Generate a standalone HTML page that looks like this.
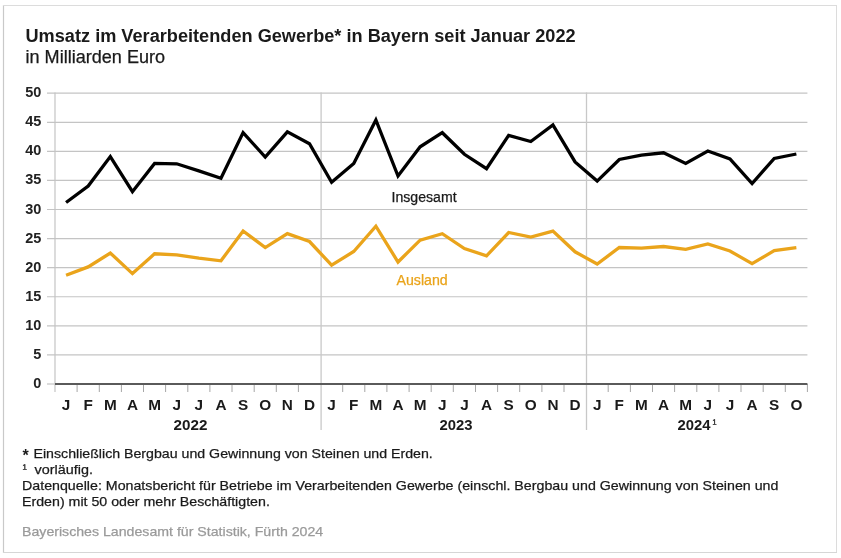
<!DOCTYPE html>
<html lang="de"><head><meta charset="utf-8"><title>Umsatz im Verarbeitenden Gewerbe in Bayern</title>
<style>
html,body{margin:0;padding:0;background:#fff;width:841px;height:558px;overflow:hidden}
svg{display:block}
text{font-family:"Liberation Sans",Arial,sans-serif}
.g{stroke:#c4c4c4;stroke-width:1.2}
.t{stroke:#a6a6a6;stroke-width:1}
.s{stroke:#c8c8c8;stroke-width:1.3}
.z{stroke:#5a5a5a;stroke-width:2}
.lb{fill:none;stroke:#000;stroke-width:3.3;stroke-linejoin:miter}
.lo{fill:none;stroke:#eaa41b;stroke-width:3.3;stroke-linejoin:miter}
.yl{font-size:14.2px;font-weight:bold;text-anchor:end;fill:#222}
.ml{font-size:14.2px;font-weight:bold;text-anchor:middle;fill:#1a1a1a}
</style></head><body>
<svg width="841" height="558" viewBox="0 0 841 558">
<rect x="0" y="0" width="841" height="558" fill="#fff"/>
<line x1="3.5" y1="5" x2="3.5" y2="553" stroke="#c9c9c9" stroke-width="1.2"/>
<line x1="3" y1="5.5" x2="836.5" y2="5.5" stroke="#dcdcdc" stroke-width="1"/>
<line x1="836.5" y1="5" x2="836.5" y2="553" stroke="#dcdcdc" stroke-width="1"/>
<line x1="3" y1="552.5" x2="837" y2="552.5" stroke="#d6d6d6" stroke-width="1"/>
<line x1="47" y1="354.92" x2="807.4" y2="354.92" class="g"/><line x1="47" y1="325.84" x2="807.4" y2="325.84" class="g"/><line x1="47" y1="296.76" x2="807.4" y2="296.76" class="g"/><line x1="47" y1="267.68" x2="807.4" y2="267.68" class="g"/><line x1="47" y1="238.60" x2="807.4" y2="238.60" class="g"/><line x1="47" y1="209.52" x2="807.4" y2="209.52" class="g"/><line x1="47" y1="180.44" x2="807.4" y2="180.44" class="g"/><line x1="47" y1="151.36" x2="807.4" y2="151.36" class="g"/><line x1="47" y1="122.28" x2="807.4" y2="122.28" class="g"/><line x1="47" y1="93.20" x2="807.4" y2="93.20" class="g"/><line x1="47" y1="384" x2="55.0" y2="384" class="g"/><line x1="55.0" y1="92.5" x2="55.0" y2="392" class="g"/><line x1="321.1" y1="92.5" x2="321.1" y2="430" class="s"/><line x1="586.5" y1="92.5" x2="586.5" y2="430" class="s"/><line x1="77.1" y1="384" x2="77.1" y2="392" class="t"/><line x1="99.3" y1="384" x2="99.3" y2="392" class="t"/><line x1="121.4" y1="384" x2="121.4" y2="392" class="t"/><line x1="143.5" y1="384" x2="143.5" y2="392" class="t"/><line x1="165.6" y1="384" x2="165.6" y2="392" class="t"/><line x1="187.8" y1="384" x2="187.8" y2="392" class="t"/><line x1="209.9" y1="384" x2="209.9" y2="392" class="t"/><line x1="232.0" y1="384" x2="232.0" y2="392" class="t"/><line x1="254.2" y1="384" x2="254.2" y2="392" class="t"/><line x1="276.3" y1="384" x2="276.3" y2="392" class="t"/><line x1="298.4" y1="384" x2="298.4" y2="392" class="t"/><line x1="342.7" y1="384" x2="342.7" y2="392" class="t"/><line x1="364.8" y1="384" x2="364.8" y2="392" class="t"/><line x1="386.9" y1="384" x2="386.9" y2="392" class="t"/><line x1="409.1" y1="384" x2="409.1" y2="392" class="t"/><line x1="431.2" y1="384" x2="431.2" y2="392" class="t"/><line x1="453.3" y1="384" x2="453.3" y2="392" class="t"/><line x1="475.5" y1="384" x2="475.5" y2="392" class="t"/><line x1="497.6" y1="384" x2="497.6" y2="392" class="t"/><line x1="519.7" y1="384" x2="519.7" y2="392" class="t"/><line x1="541.9" y1="384" x2="541.9" y2="392" class="t"/><line x1="564.0" y1="384" x2="564.0" y2="392" class="t"/><line x1="608.2" y1="384" x2="608.2" y2="392" class="t"/><line x1="630.4" y1="384" x2="630.4" y2="392" class="t"/><line x1="652.5" y1="384" x2="652.5" y2="392" class="t"/><line x1="674.6" y1="384" x2="674.6" y2="392" class="t"/><line x1="696.8" y1="384" x2="696.8" y2="392" class="t"/><line x1="718.9" y1="384" x2="718.9" y2="392" class="t"/><line x1="741.0" y1="384" x2="741.0" y2="392" class="t"/><line x1="763.2" y1="384" x2="763.2" y2="392" class="t"/><line x1="785.3" y1="384" x2="785.3" y2="392" class="t"/><line x1="807.4" y1="384" x2="807.4" y2="392" class="t"/><line x1="55.0" y1="384" x2="807.4" y2="384" class="z"/>
<polyline points="66.06,202.50 88.19,186.00 110.32,156.60 132.45,191.70 154.58,163.40 176.71,163.80 198.84,170.90 220.97,178.30 243.10,132.60 265.24,157.10 287.37,131.80 309.50,143.70 331.62,182.20 353.75,163.40 375.88,119.90 398.01,176.00 420.14,146.80 442.27,132.70 464.40,154.30 486.53,168.70 508.66,135.30 530.79,141.50 552.92,125.00 575.05,161.90 597.18,181.10 619.31,159.50 641.44,155.20 663.57,152.80 685.70,163.40 707.83,151.00 729.96,159.00 752.09,183.60 774.23,158.50 796.36,154.00" class="lb"/>
<polyline points="66.06,275.30 88.19,266.90 110.32,253.00 132.45,273.60 154.58,253.80 176.71,254.90 198.84,258.10 220.97,260.80 243.10,231.00 265.24,247.60 287.37,233.60 309.50,241.50 331.62,265.20 353.75,251.50 375.88,226.25 398.01,262.00 420.14,240.10 442.27,233.70 464.40,248.50 486.53,255.80 508.66,232.50 530.79,237.00 552.92,231.10 575.05,251.80 597.18,264.00 619.31,247.50 641.44,248.10 663.57,246.50 685.70,249.40 707.83,244.00 729.96,251.00 752.09,263.70 774.23,250.60 796.36,247.70" class="lo"/>
<text transform="translate(41.3 388.0) scale(1.02 1)" class="yl">0</text><text transform="translate(41.3 358.9) scale(1.02 1)" class="yl">5</text><text transform="translate(41.3 329.8) scale(1.02 1)" class="yl">10</text><text transform="translate(41.3 300.8) scale(1.02 1)" class="yl">15</text><text transform="translate(41.3 271.7) scale(1.02 1)" class="yl">20</text><text transform="translate(41.3 242.6) scale(1.02 1)" class="yl">25</text><text transform="translate(41.3 213.5) scale(1.02 1)" class="yl">30</text><text transform="translate(41.3 184.4) scale(1.02 1)" class="yl">35</text><text transform="translate(41.3 155.4) scale(1.02 1)" class="yl">40</text><text transform="translate(41.3 126.3) scale(1.02 1)" class="yl">45</text><text transform="translate(41.3 97.2) scale(1.02 1)" class="yl">50</text>
<text transform="translate(66.06 410) scale(1.08 1)" class="ml">J</text><text transform="translate(88.19 410) scale(1.08 1)" class="ml">F</text><text transform="translate(110.32 410) scale(1.08 1)" class="ml">M</text><text transform="translate(132.45 410) scale(1.08 1)" class="ml">A</text><text transform="translate(154.58 410) scale(1.08 1)" class="ml">M</text><text transform="translate(176.71 410) scale(1.08 1)" class="ml">J</text><text transform="translate(198.84 410) scale(1.08 1)" class="ml">J</text><text transform="translate(220.97 410) scale(1.08 1)" class="ml">A</text><text transform="translate(243.10 410) scale(1.08 1)" class="ml">S</text><text transform="translate(265.24 410) scale(1.08 1)" class="ml">O</text><text transform="translate(287.37 410) scale(1.08 1)" class="ml">N</text><text transform="translate(309.50 410) scale(1.08 1)" class="ml">D</text><text transform="translate(331.62 410) scale(1.08 1)" class="ml">J</text><text transform="translate(353.75 410) scale(1.08 1)" class="ml">F</text><text transform="translate(375.88 410) scale(1.08 1)" class="ml">M</text><text transform="translate(398.01 410) scale(1.08 1)" class="ml">A</text><text transform="translate(420.14 410) scale(1.08 1)" class="ml">M</text><text transform="translate(442.27 410) scale(1.08 1)" class="ml">J</text><text transform="translate(464.40 410) scale(1.08 1)" class="ml">J</text><text transform="translate(486.53 410) scale(1.08 1)" class="ml">A</text><text transform="translate(508.66 410) scale(1.08 1)" class="ml">S</text><text transform="translate(530.79 410) scale(1.08 1)" class="ml">O</text><text transform="translate(552.92 410) scale(1.08 1)" class="ml">N</text><text transform="translate(575.05 410) scale(1.08 1)" class="ml">D</text><text transform="translate(597.18 410) scale(1.08 1)" class="ml">J</text><text transform="translate(619.31 410) scale(1.08 1)" class="ml">F</text><text transform="translate(641.44 410) scale(1.08 1)" class="ml">M</text><text transform="translate(663.57 410) scale(1.08 1)" class="ml">A</text><text transform="translate(685.70 410) scale(1.08 1)" class="ml">M</text><text transform="translate(707.83 410) scale(1.08 1)" class="ml">J</text><text transform="translate(729.96 410) scale(1.08 1)" class="ml">J</text><text transform="translate(752.09 410) scale(1.08 1)" class="ml">A</text><text transform="translate(774.23 410) scale(1.08 1)" class="ml">S</text><text transform="translate(796.36 410) scale(1.08 1)" class="ml">O</text>
<text id="title" y="41.8" font-size="17.5" font-weight="bold" fill="#1a1a1a" x="25.50" textLength="550.09" lengthAdjust="spacingAndGlyphs">Umsatz im Verarbeitenden Gewerbe* in Bayern seit Januar 2022</text>
<text id="sub" y="62.7" font-size="17.5" font-weight="normal" fill="#1a1a1a" stroke="#1a1a1a" stroke-width="0.25" x="25.50" textLength="139.60" lengthAdjust="spacingAndGlyphs">in Milliarden Euro</text>
<text id="fn1a" y="460.5" font-size="16.0" font-weight="bold" fill="#1a1a1a" x="22.60">*</text>
<text id="fn1b" y="457.7" font-size="13.5" font-weight="normal" fill="#1a1a1a" stroke="#1a1a1a" stroke-width="0.25" x="33.50" textLength="399.30" lengthAdjust="spacingAndGlyphs">Einschließlich Bergbau und Gewinnung von Steinen und Erden.</text>
<text id="fn2a" y="472.9" font-size="13.0" font-weight="normal" fill="#1a1a1a" stroke="#1a1a1a" stroke-width="0.25" x="22.60">¹</text>
<text id="fn2b" y="473.8" font-size="13.5" font-weight="normal" fill="#1a1a1a" stroke="#1a1a1a" stroke-width="0.25" x="34.50" textLength="58.38" lengthAdjust="spacingAndGlyphs">vorläufig.</text>
<text id="fn3" y="490.1" font-size="13.5" font-weight="normal" fill="#1a1a1a" stroke="#1a1a1a" stroke-width="0.25" x="22.00" textLength="756.40" lengthAdjust="spacingAndGlyphs">Datenquelle: Monatsbericht für Betriebe im Verarbeitenden Gewerbe (einschl. Bergbau und Gewinnung von Steinen und</text>
<text id="fn4" y="506.3" font-size="13.5" font-weight="normal" fill="#1a1a1a" stroke="#1a1a1a" stroke-width="0.25" x="22.00" textLength="247.83" lengthAdjust="spacingAndGlyphs">Erden) mit 50 oder mehr Beschäftigten.</text>
<text id="src" y="536.0" font-size="13.0" font-weight="normal" fill="#9a9a9a" stroke="#9a9a9a" stroke-width="0.25" x="22.00" textLength="301.15" lengthAdjust="spacingAndGlyphs">Bayerisches Landesamt für Statistik, Fürth 2024</text>
<text id="insg" y="201.5" font-size="13.8" font-weight="normal" fill="#1a1a1a" stroke="#1a1a1a" stroke-width="0.25" x="391.50" textLength="65.08" lengthAdjust="spacingAndGlyphs">Insgesamt</text>
<text id="ausl" y="284.9" font-size="13.8" font-weight="normal" fill="#eaa41b" stroke="#eaa41b" stroke-width="0.25" x="396.50" textLength="51.20" lengthAdjust="spacingAndGlyphs">Ausland</text>
<text id="yr22" y="429.5" font-size="14.2" font-weight="bold" fill="#1a1a1a" x="173.50" textLength="33.85" lengthAdjust="spacingAndGlyphs">2022</text>
<text id="yr23" y="429.5" font-size="14.2" font-weight="bold" fill="#1a1a1a" x="439.50" textLength="33.05" lengthAdjust="spacingAndGlyphs">2023</text>
<text id="yr24" y="429.5" font-size="14.2" font-weight="bold" fill="#1a1a1a" x="677.50" textLength="33.05" lengthAdjust="spacingAndGlyphs">2024</text>
<text id="yr24s" y="428.3" font-size="12.0" font-weight="normal" fill="#1a1a1a" stroke="#1a1a1a" stroke-width="0.25" x="712.60">¹</text>
</svg>
</body></html>
